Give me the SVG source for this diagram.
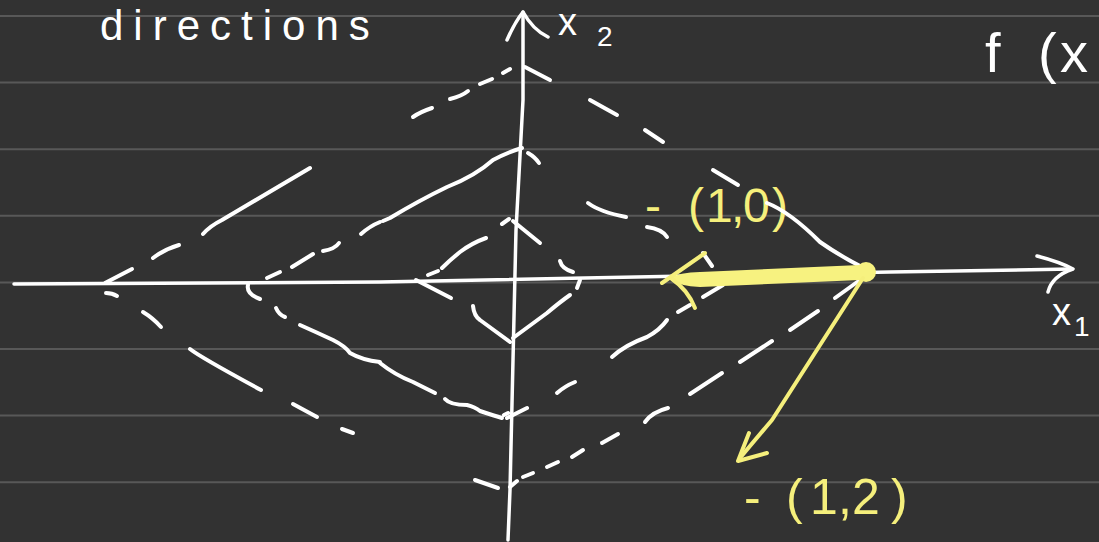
<svg xmlns="http://www.w3.org/2000/svg" width="1099" height="542" viewBox="0 0 1099 542">
<style>
.g{stroke:#585858;stroke-width:2;fill:none}
.w{stroke:#ffffff;stroke-width:4;fill:none;stroke-linecap:round;stroke-linejoin:round}
.ax{stroke:#ffffff;stroke-width:3.5;fill:none;stroke-linecap:round;stroke-linejoin:round}
.y{stroke:#f5ef7c;stroke-width:4;fill:none;stroke-linecap:round;stroke-linejoin:round}
.t{font-family:"Liberation Sans",Arial,sans-serif;fill:#ffffff}
.ty{font-family:"Liberation Sans",Arial,sans-serif;fill:#f5ef7c}
</style>
<rect width="1099" height="542" fill="#323232"/>
<g id="grid">
<line class="g" x1="0" y1="16" x2="1099" y2="16"/>
<line class="g" x1="0" y1="82.6" x2="1099" y2="82.6"/>
<line class="g" x1="0" y1="149.2" x2="1099" y2="149.2"/>
<line class="g" x1="0" y1="215.8" x2="1099" y2="215.8"/>
<line class="g" x1="0" y1="282.4" x2="1099" y2="282.4"/>
<line class="g" x1="0" y1="349" x2="1099" y2="349"/>
<line class="g" x1="0" y1="415.6" x2="1099" y2="415.6"/>
<line class="g" x1="0" y1="482.2" x2="1099" y2="482.2"/>
</g>
<g id="texts">
<text class="t" x="100" y="40" font-size="42" letter-spacing="10">directions</text>
<text class="t" font-size="56" x="985 1038 1060" y="72">f(x</text>
<text class="t" font-size="38" x="558" y="35">x</text>
<text class="t" font-size="28" x="597" y="46">2</text>
<text class="t" font-size="38" x="1052" y="325">x</text>
<text class="t" font-size="28" x="1074" y="336">1</text>
<text class="ty" font-size="48" x="645 688 706 731 743 772" y="222">-(1,0)</text>
<text class="ty" font-size="50" x="744 786 810 838 852 891" y="514">-(1,2)</text>
</g>
<g id="axes">
<path class="ax" d="M14 284 L380 282 L890 272 L1072 269"/>
<path class="ax" d="M1037 256 Q1060 262 1073 269 Q1052 276 1048 292"/>
<path class="ax" d="M508 540 L510 490 L516 230 L523 100 L523 12"/>
<path class="ax" d="M507 40 Q515 22 523 12 Q533 30 548 37"/>
</g>
<g id="outer-diamond">
<path class="w" d="M105 283 L132 269"/>
<path class="w" d="M153 258 Q165 249 179 245"/>
<path class="w" d="M203 234 Q210 226 222 220 L310 168"/>
<path class="w" d="M413 117 Q420 112 432 108"/>
<path class="w" d="M450 99 Q462 96 468 91"/>
<path class="w" d="M480 84 L492 79"/>
<path class="w" d="M503 73 L510 69"/>
<path class="w" d="M525 67 L550 80"/>
<path class="w" d="M590 100 L617 115"/>
<path class="w" d="M645 130 L663 142"/>
<path class="w" d="M713 170 L738 185"/>
<path class="w" d="M767 203 Q790 212 820 242 Q840 256 862 267"/>
<path class="w" d="M106 293 Q112 293 117 296"/>
<path class="w" d="M143 312 Q153 318 161 327"/>
<path class="w" d="M190 349 Q200 357 261 390"/>
<path class="w" d="M293 404 L317 417"/>
<path class="w" d="M342 429 L353 433"/>
<path class="w" d="M475 480 L498 488"/>
<path class="w" d="M510 487 L517 481"/>
<path class="w" d="M523 477 L533 473"/>
<path class="w" d="M547 467 L558 462"/>
<path class="w" d="M572 457 L583 450"/>
<path class="w" d="M602 443 L618 434"/>
<path class="w" d="M645 422 Q652 412 668 408"/>
<path class="w" d="M690 394 L722 373"/>
<path class="w" d="M740 362 L772 341"/>
<path class="w" d="M790 330 L818 311"/>
<path class="w" d="M835 298 L860 280"/>
</g>
<g id="middle-diamond">
<path class="w" d="M267 278 L280 272"/>
<path class="w" d="M292 267 L313 254"/>
<path class="w" d="M323 251 Q335 249 339 243"/>
<path class="w" d="M361 234 Q370 226 380 222"/>
<path class="w" d="M383 221 L390 218 Q420 200 447 187 Q475 176 493 160 Q508 152 522 148"/>
<path class="w" d="M528 153 Q535 157 539 163"/>
<path class="w" d="M588 203 Q600 212 626 217"/>
<path class="w" d="M647 227 Q662 229 667 237"/>
<path class="w" d="M703 253 L712 266"/>
<path class="w" d="M248 285 Q246 294 260 299"/>
<path class="w" d="M276 308 Q279 315 285 317"/>
<path class="w" d="M300 325 Q318 333 333 340 Q345 346 350 353 Q362 360 380 362"/>
<path class="w" d="M380 363 Q395 375 413 382 L435 393"/>
<path class="w" d="M445 399 Q450 405 467 405 Q475 407 480 411 Q495 416 502 418"/>
<path class="w" d="M504 415 L508 413"/>
<path class="w" d="M507 418 L527 408"/>
<path class="w" d="M557 393 Q565 386 575 382"/>
<path class="w" d="M612 357 Q625 345 647 337 Q660 330 667 320"/>
<path class="w" d="M678 312 L690 305"/>
<path class="w" d="M703 297 L723 285"/>
</g>
<g id="inner-diamond">
<path class="w" d="M428 275 L438 271"/>
<path class="w" d="M442 268 Q450 260 460 252 Q472 243 486 238"/>
<path class="w" d="M502 224 L509 219"/>
<path class="w" d="M513 221 L540 243"/>
<path class="w" d="M560 261 Q562 269 573 272"/>
<path class="w" d="M580 280 L577 288"/>
<path class="w" d="M570 295 Q560 302 547 313 L513 338"/>
<path class="w" d="M416 280 L451 298"/>
<path class="w" d="M473 306 Q474 316 480 320 L510 342"/>
</g>
<g id="yellow">
<path d="M668 279 Q680 272 700 272 L860 265 L868 271 L860 280 L700 287 Q680 286 668 279 Z" fill="#f7f280"/>
<circle cx="866" cy="272" r="10" fill="#f7f280"/>
<path class="y" d="M662 283 L705 253"/>
<path class="y" d="M672 279 Q688 290 695 308"/>
<path class="y" d="M863 278 Q820 345 772 420 Q755 440 740 458"/>
<path class="y" d="M749 433 L738 461 L767 453"/>
</g>
</svg>
